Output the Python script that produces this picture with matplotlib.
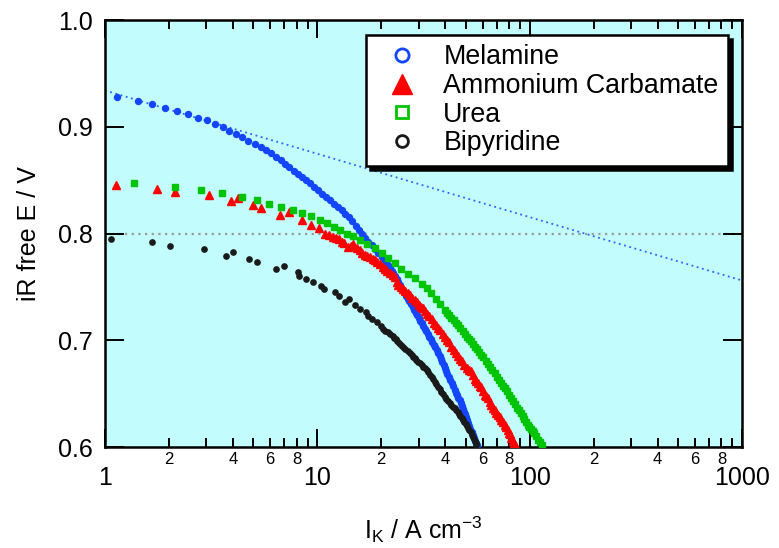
import math

import matplotlib
matplotlib.use('Agg')
import matplotlib.pyplot as plt
import matplotlib.ticker as mticker
from matplotlib.lines import Line2D

plt.rcParams['font.family'] = ['Liberation Sans', 'DejaVu Sans']
plt.rcParams['mathtext.fontset'] = 'custom'
plt.rcParams['mathtext.rm'] = 'Liberation Sans'
plt.rcParams['mathtext.it'] = 'Liberation Sans:italic'

# Melamine (kinetic current density vs iR-free potential)
mel_x = [1.14, 1.43, 1.67, 1.92, 2.18, 2.46, 2.74, 3.01, 3.31, 3.58, 3.85, 4.14,
         4.44, 4.74, 5.08, 5.40, 5.72, 6.04, 6.37, 6.72, 7.04, 7.38, 7.74, 8.11,
         8.49, 8.86, 9.25, 9.66, 10.09, 10.53, 11.0, 11.48, 11.99, 12.51, 13.03,
         13.55, 14.04, 14.6, 15.2, 15.7, 16.2, 16.8, 17.4, 18.0, 18.7, 19.4, 20.1,
         20.8, 21.6, 22.0, 22.4, 22.8, 23.2, 23.6, 24.0, 24.45, 24.9, 25.35, 25.8,
         26.25, 26.7, 27.15, 27.6, 28.1, 28.6, 29.1, 29.6, 30.1, 30.6, 31.1, 31.6,
         32.1, 32.6, 33.15, 33.7, 34.25, 34.8, 35.35, 35.9, 36.5, 37.1, 37.65,
         38.2, 38.75, 39.3, 39.85, 40.4, 41.0, 41.6, 42.25, 42.9, 43.7, 44.5,
         45.05, 45.6, 46.2, 46.8, 47.4, 48.0, 48.55, 49.1, 49.65, 50.2, 50.75,
         51.3, 51.95, 52.6, 53.35, 54.1, 54.7, 55.3, 55.9, 56.5]
mel_y = [0.928, 0.924, 0.921, 0.918, 0.915, 0.912, 0.9085, 0.906, 0.903, 0.8995,
         0.896, 0.893, 0.890, 0.887, 0.884, 0.881, 0.878, 0.875, 0.872, 0.869,
         0.865, 0.862, 0.859, 0.856, 0.853, 0.850, 0.847, 0.844, 0.8405, 0.837,
         0.834, 0.831, 0.828, 0.825, 0.822, 0.8185, 0.815, 0.8115, 0.807, 0.8035,
         0.800, 0.796, 0.7923, 0.789, 0.7852, 0.7815, 0.778, 0.7745, 0.7705,
         0.768, 0.7653, 0.7626, 0.760, 0.7575, 0.755, 0.752, 0.749, 0.7465, 0.744,
         0.7415, 0.739, 0.7365, 0.734, 0.731, 0.728, 0.7257, 0.7232, 0.7206,
         0.7181, 0.7158, 0.7134, 0.711, 0.7087, 0.706, 0.7034, 0.7008, 0.6982,
         0.6958, 0.6934, 0.6907, 0.6881, 0.6852, 0.6824, 0.6795, 0.6766, 0.6739,
         0.6712, 0.6685, 0.6659, 0.663, 0.6602, 0.6568, 0.6534, 0.651, 0.6486,
         0.6461, 0.6437, 0.641, 0.6384, 0.6358, 0.6332, 0.6305, 0.6278, 0.6251,
         0.6225, 0.6197, 0.617, 0.6141, 0.6112, 0.6086, 0.606, 0.604, 0.602]

# Ammonium carbamate
amc_x = [1.13, 1.76, 2.13, 3.08, 3.92, 4.23, 5.00, 5.45, 6.69, 7.36, 8.49, 9.29,
         10.2, 10.9, 11.4, 11.8, 12.2, 12.6, 13.0, 13.4, 14.0, 14.4, 14.8, 15.3,
         15.9, 16.3, 16.8, 17.2, 17.7, 18.2, 18.7, 19.2, 19.8, 20.3, 20.9, 21.4,
         22.0, 22.6, 23.2, 23.6, 24.1, 24.9, 25.4, 26.0, 26.6, 27.3, 28.0, 28.8,
         29.5, 30.2, 30.8, 31.5, 32.2, 32.9, 33.7, 34.6, 35.5, 36.4, 37.2, 38.0,
         38.9, 39.8, 40.8, 41.8, 42.8, 43.8, 44.9, 46.0, 47.1, 48.2, 49.3, 50.5,
         51.6, 52.8, 53.9, 55.0, 56.0, 57.1, 58.1, 59.2, 60.3, 61.5, 62.6, 63.8,
         64.9, 66.0, 67.1, 68.3, 69.5, 70.8, 72.1, 73.5, 74.8, 76.2, 77.5, 78.9,
         80.0, 81.0, 82.1, 83.2, 84.2, 85.3, 86.4]
amc_y = [0.845, 0.842, 0.839, 0.836, 0.830, 0.833, 0.827, 0.824, 0.817, 0.820,
         0.813, 0.808, 0.805, 0.800, 0.799, 0.797, 0.7955, 0.795, 0.7925, 0.791,
         0.787, 0.7885, 0.790, 0.786, 0.7845, 0.782, 0.780, 0.779, 0.778, 0.776,
         0.775, 0.773, 0.771, 0.769, 0.767, 0.765, 0.763, 0.761, 0.7595, 0.755,
         0.752, 0.750, 0.748, 0.746, 0.744, 0.742, 0.740, 0.738, 0.7355, 0.733,
         0.7315, 0.730, 0.727, 0.725, 0.7225, 0.720, 0.716, 0.714, 0.7115, 0.710,
         0.706, 0.703, 0.7005, 0.698, 0.694, 0.691, 0.688, 0.685, 0.6825, 0.681,
         0.677, 0.674, 0.6725, 0.671, 0.667, 0.664, 0.662, 0.660, 0.6575, 0.656,
         0.652, 0.649, 0.6475, 0.646, 0.6425, 0.639, 0.637, 0.635, 0.632, 0.630,
         0.628, 0.625, 0.623, 0.621, 0.6185, 0.616, 0.6135, 0.612, 0.608, 0.606,
         0.604, 0.602, 0.600]

# Urea
urea_x = [1.37, 2.13, 2.84, 3.56, 4.43, 5.17, 5.95, 6.77, 7.65, 8.49, 9.35, 10.3,
          11.1, 11.95, 12.8, 13.8, 14.8, 15.9, 17.1, 18.7, 20.1, 21.6, 23.2, 24.9,
          26.8, 28.8, 31.0, 32.7, 34.4, 36.1, 37.9, 39.8, 40.8, 41.8, 42.8, 43.9,
          45.0, 46.1, 47.2, 48.4, 49.6, 50.8, 51.9, 53.0, 54.0, 55.1, 56.4, 57.8,
          59.2, 60.6, 62.1, 63.6, 65.2, 66.8, 68.4, 70.0, 71.7, 73.4, 75.0, 76.6,
          78.3, 80.0, 81.8, 83.6, 85.4, 87.2, 89.1, 91.0, 92.7, 94.5, 96.2, 98.0,
          99.8, 101.6, 103.4, 105.2, 107.3, 109.5, 111.6, 113.8]
urea_y = [0.847, 0.844, 0.841, 0.838, 0.8345, 0.8315, 0.828, 0.825, 0.822, 0.819,
          0.816, 0.8126, 0.8095, 0.8064, 0.8033, 0.800, 0.7975, 0.794, 0.7905,
          0.786, 0.7815, 0.777, 0.772, 0.767, 0.7625, 0.758, 0.753, 0.749, 0.744,
          0.739, 0.7335, 0.728, 0.7258, 0.7235, 0.7213, 0.719, 0.7165, 0.714,
          0.7115, 0.709, 0.7063, 0.7035, 0.7012, 0.699, 0.6965, 0.694, 0.6915,
          0.689, 0.6865, 0.684, 0.681, 0.678, 0.675, 0.672, 0.669, 0.666, 0.663,
          0.660, 0.6575, 0.655, 0.652, 0.649, 0.646, 0.643, 0.640, 0.637, 0.6343,
          0.6316, 0.6288, 0.626, 0.6235, 0.621, 0.619, 0.617, 0.615, 0.6128, 0.610,
          0.607, 0.6045, 0.602]

# Bipyridine
bpy_x = [1.067, 1.67, 2.02, 2.93, 3.73, 4.02, 4.78, 5.17, 6.37, 6.99, 8.1, 8.19,
         8.81, 9.52, 10.35, 10.72, 12.08, 12.6, 13.45, 14.15, 15.1, 15.9, 17.0,
         17.3, 18.1, 19.1, 19.95, 20.3, 20.9, 21.6, 22.1, 22.6, 23.0, 23.4, 23.8,
         24.3, 24.8, 25.4, 26.0, 26.6, 27.2, 27.8, 28.3, 28.8, 29.3, 29.9, 30.4,
         31.0, 31.5, 32.1, 32.7, 33.3, 33.9, 34.5, 35.1, 35.8, 36.4, 37.1, 37.7,
         38.4, 39.1, 39.8, 40.5, 41.3, 42.0, 42.8, 43.6, 44.4, 45.2, 46.0, 46.6,
         47.2, 47.8, 48.5, 49.2, 49.9, 50.6, 51.3, 52.0, 52.7, 53.4, 54.1, 54.6,
         55.1, 55.6, 56.1]
bpy_y = [0.7948, 0.7918, 0.7886, 0.7855, 0.7792, 0.7827, 0.7762, 0.773, 0.7667,
         0.770, 0.7636, 0.7605, 0.7574, 0.7543, 0.7511, 0.748, 0.7449, 0.7417,
         0.7355, 0.7389, 0.7327, 0.7296, 0.7262, 0.723, 0.7199, 0.7168, 0.7136,
         0.7105, 0.709, 0.7074, 0.7055, 0.7043, 0.7025, 0.7012, 0.699, 0.697,
         0.6955, 0.694, 0.692, 0.690, 0.688, 0.6862, 0.6846, 0.683, 0.6815, 0.680,
         0.6785, 0.677, 0.6754, 0.6737, 0.6718, 0.6698, 0.6678, 0.6659, 0.6635,
         0.6612, 0.6588, 0.6565, 0.6542, 0.6518, 0.6495, 0.6471, 0.6451, 0.6432,
         0.6412, 0.6393, 0.6378, 0.6362, 0.6346, 0.6331, 0.6311, 0.6292, 0.6272,
         0.6253, 0.6234, 0.6214, 0.6195, 0.6175, 0.6156, 0.6136, 0.6117, 0.6097,
         0.6078, 0.6058, 0.6039, 0.6019]

# Tafel extrapolation and reference potential
tafel_x = [1, 1000]
tafel_y = [0.934, 0.756]
ref_x = [1, 1000]
ref_y = [0.8, 0.8]

series = [
    ('Melamine', mel_x, mel_y, '#1446ff', 'o', 4.3),
    ('Ammonium Carbamate', amc_x, amc_y, '#ff0000', '^', 6.3),
    ('Urea', urea_x, urea_y, '#00c400', 's', 4.2),
    ('Bipyridine', bpy_x, bpy_y, '#1a1a1a', 'o', 3.8),
]


def minor_label(v, pos):
    """Label only the 2, 4, 6, 8 minor ticks of each decade."""
    digit = int(round(v / 10 ** math.floor(math.log10(v) + 1e-9)))
    return str(digit) if digit in (2, 4, 6, 8) else ''


fig = plt.figure(figsize=(7.79, 5.48), dpi=100)
ax = fig.add_axes([0.1348, 0.1843, 0.8177, 0.7792])
ax.set_facecolor('#c2fcfc')

ax.plot(ref_x, ref_y, ls=(0, (1, 2)), color='#9a9a9a', lw=1.6, zorder=1)
ax.plot(tafel_x, tafel_y, ls=(0, (1, 2)), color='#2a64ff', lw=1.3, zorder=1)

for name, x, y, c, m, ms in series:
    ax.plot(x, y, ls='none', marker=m, color=c, ms=ms, mec=c, zorder=3)

ax.set_xscale('log')
ax.set_xlim(1, 1000)
ax.set_ylim(0.6, 1.0)

ax.xaxis.set_major_locator(mticker.FixedLocator([1, 10, 100, 1000]))
ax.xaxis.set_major_formatter(mticker.FixedFormatter(['1', '10', '100', '1000']))
ax.xaxis.set_minor_locator(mticker.LogLocator(base=10, subs=[2, 3, 4, 5, 6, 7, 8, 9]))
ax.xaxis.set_minor_formatter(mticker.FuncFormatter(minor_label))

ax.set_yticks([0.6, 0.7, 0.8, 0.9, 1.0])
ax.yaxis.set_major_formatter(mticker.FormatStrFormatter('%.1f'))

ax.tick_params(which='both', direction='in', top=True, right=True, width=1.4, colors='black')
ax.tick_params(axis='x', which='major', length=13, pad=14, labelsize=18)
ax.tick_params(axis='x', which='minor', length=6.5, pad=3.5, labelsize=12)
ax.tick_params(axis='y', which='major', length=14, pad=9, labelsize=18)
ax.tick_params(axis='y', which='minor', left=False, right=False)
for s in ax.spines.values():
    s.set_linewidth(1.8)

ax.set_xlabel(r'I$_\mathrm{K}$ / A cm$^{-3}$', fontsize=18, labelpad=17)
ax.set_ylabel('iR free E / V', fontsize=18, labelpad=12)

handles = [
    Line2D([], [], ls='none', marker='o', mfc='none', mec='#1446ff', mew=2, ms=9.5),
    Line2D([], [], ls='none', marker='^', color='#ff0000', ms=14),
    Line2D([], [], ls='none', marker='s', mfc='none', mec='#00c400', mew=2, ms=9),
    Line2D([], [], ls='none', marker='o', mfc='none', mec='#1a1a1a', mew=2, ms=8.5),
]
leg = ax.legend(handles, [s[0] for s in series], loc='upper right',
                bbox_to_anchor=(0.978, 0.965), fontsize=19.3, frameon=True,
                fancybox=False, shadow={'color': 'black', 'alpha': 1, 'ox': 3, 'oy': -3},
                handlelength=2.0, handletextpad=0.55, labelspacing=0.1,
                borderpad=0.35, borderaxespad=0)
leg.get_frame().set_edgecolor('black')
leg.get_frame().set_linewidth(1.8)
leg.get_frame().set_alpha(1)

fig.savefig('out.png', dpi=100)
